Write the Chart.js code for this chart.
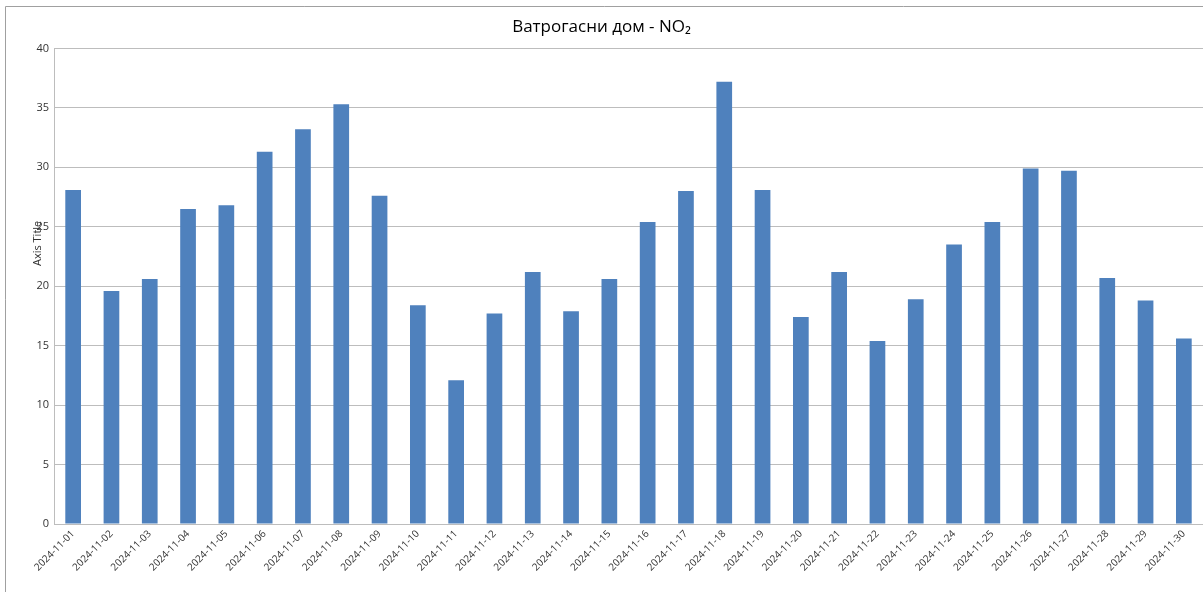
<!DOCTYPE html>
<html>
<head>
<meta charset="utf-8">
<script src="https://cdn.jsdelivr.net/npm/chart.js@4"></script>
<style>
  html, body { margin: 0; padding: 0; background: #fff; }
  #wrap { position: absolute; left: 0; top: 0; width: 1203px; height: 592px; }
</style>
</head>
<body>
<div id="wrap"><canvas id="chart" width="1203" height="592"></canvas></div>
<script>
  // Data
  const days = [
    '2024-11-01', '2024-11-02', '2024-11-03', '2024-11-04', '2024-11-05',
    '2024-11-06', '2024-11-07', '2024-11-08', '2024-11-09', '2024-11-10',
    '2024-11-11', '2024-11-12', '2024-11-13', '2024-11-14', '2024-11-15',
    '2024-11-16', '2024-11-17', '2024-11-18', '2024-11-19', '2024-11-20',
    '2024-11-21', '2024-11-22', '2024-11-23', '2024-11-24', '2024-11-25',
    '2024-11-26', '2024-11-27', '2024-11-28', '2024-11-29', '2024-11-30'
  ];
  const no2 = [
    28.1, 19.6, 20.6, 26.5, 26.8, 31.3, 33.2, 35.3, 27.6, 18.4,
    12.1, 17.7, 21.2, 17.9, 20.6, 25.4, 28.0, 37.2, 28.1, 17.4,
    21.2, 15.4, 18.9, 23.5, 25.4, 29.9, 29.7, 20.7, 18.8, 15.6
  ];
  const yTicks = [0, 5, 10, 15, 20, 25, 30, 35, 40];

  const FONT = "'Open Sans', 'Noto Sans', sans-serif";
  const textColor = '#333333';
  const gridColor = '#bdbdbd';

  // Outer frame like the spreadsheet chart object
  const framePlugin = {
    id: 'frame',
    beforeDraw(chart) {
      const c = chart.ctx;
      c.save();
      c.strokeStyle = '#a0a0a0';
      c.lineWidth = 1;
      c.beginPath();
      c.moveTo(5.5, chart.height);
      c.lineTo(5.5, 6.5);
      c.lineTo(chart.width, 6.5);
      c.stroke();
      c.restore();
    }
  };

  // "Axis Title" placed a little above the middle, as in the original
  const axisTitlePlugin = {
    id: 'axisTitle',
    afterDraw(chart) {
      const a = chart.chartArea;
      const c = chart.ctx;
      c.save();
      c.translate(38, a.top + (a.bottom - a.top) * 0.41);
      c.rotate(-Math.PI / 2);
      c.font = '11px ' + FONT;
      c.fillStyle = textColor;
      c.textAlign = 'center';
      c.textBaseline = 'middle';
      c.fillText('Axis Title', 0, 0);
      c.restore();
    }
  };

  new Chart(document.getElementById('chart').getContext('2d'), {
    type: 'bar',
    data: {
      labels: days,
      datasets: [{
        label: 'NO2',
        data: no2,
        backgroundColor: '#4f81bd',
        borderWidth: 0,
        barPercentage: 0.41,
        categoryPercentage: 1.0
      }]
    },
    options: {
      responsive: false,
      animation: false,
      layout: { padding: { left: 0, right: 0, top: 0, bottom: 0 } },
      plugins: {
        legend: { display: false },
        tooltip: { enabled: false },
        title: {
          display: true,
          text: 'Ватрогасни дом - NO₂',
          color: '#000',
          font: { family: FONT, size: 17, weight: 'normal', lineHeight: 1.2 },
          padding: { top: 17, bottom: 11 }
        }
      },
      scales: {
        x: {
          grid: { display: false, drawTicks: false },
          border: { display: true, color: gridColor, width: 1 },
          ticks: {
            color: textColor,
            font: { family: FONT, size: 10 },
            maxRotation: 45,
            minRotation: 45,
            autoSkip: false,
            padding: 4
          },
          afterFit(scale) { scale.height = 68; }
        },
        y: {
          min: 0,
          max: 40,
          afterBuildTicks(scale) { scale.ticks = yTicks.map(v => ({ value: v })); },
          grid: { color: gridColor, drawTicks: false, lineWidth: 1 },
          border: { display: true, color: gridColor, width: 1 },
          ticks: {
            color: textColor,
            font: { family: FONT, size: 11 },
            padding: 5
          },
          afterFit(scale) { scale.width = 54; }
        }
      }
    },
    plugins: [framePlugin, axisTitlePlugin]
  });
</script>
</body>
</html>
